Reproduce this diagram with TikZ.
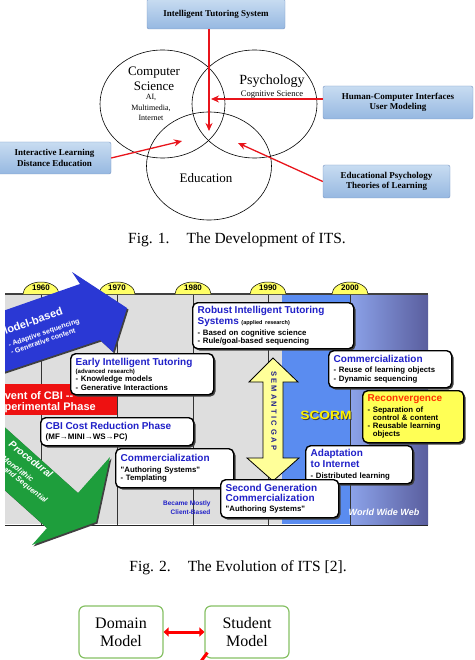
\documentclass[tikz,border=0pt]{standalone}
\usepackage{fontspec}
\setmainfont{Liberation Serif}
\newfontfamily\arialfont{Liberation Sans}
\usetikzlibrary{shadows,arrows.meta,shapes.geometric}
\definecolor{boxtop}{HTML}{C8DCF1}
\definecolor{boxbot}{HTML}{96B8E1}
\definecolor{boxline}{HTML}{7895C2}
\definecolor{itsred}{HTML}{E8141B}
\definecolor{panelgray}{HTML}{DEDEDE}
\definecolor{scormblue}{HTML}{5A8CF0}
\definecolor{webleft}{HTML}{8CA3EA}
\definecolor{webright}{HTML}{5A5E9E}
\definecolor{modelblue}{HTML}{2A38D4}
\definecolor{procgreen}{HTML}{1E9E3C}
\definecolor{cbired}{HTML}{EE1111}
\definecolor{bumpyellow}{HTML}{FFFF66}
\definecolor{gapyellow}{HTML}{FFFF99}
\definecolor{gapblue}{HTML}{20208A}
\definecolor{titleblue}{HTML}{2020C8}
\definecolor{reconvred}{HTML}{FF3300}
\definecolor{reconvyellow}{HTML}{FFFF55}
\definecolor{modelgreen}{HTML}{86C064}
\newcommand\calltitle[1]{{\color{titleblue}\fontsize{10}{11}\selectfont #1}}

\begin{document}
\begin{tikzpicture}[x=1pt, y=-1pt,
	topicbox/.style={draw=boxline, top color=boxtop, bottom color=boxbot, rounded corners=2pt, font=\bfseries\fontsize{9}{10.5}\selectfont, align=center, inner sep=0pt},
	redarrow/.style={draw=itsred, line width=1.3pt, -{Stealth[length=8pt,width=7pt]}},
	venn/.style={ellipse, draw, line width=0.6pt, minimum width=125pt, minimum height=108pt},
	eventbox/.style={draw=black, line width=1.4pt, rounded corners=5pt, fill=white, anchor=north west, align=left, inner xsep=5pt, inner ysep=2pt, font=\arialfont\bfseries\fontsize{7.8}{8.3}\selectfont, drop shadow={shadow xshift=1.8pt, shadow yshift=-1.8pt, fill=black!75, opacity=1}},
	yearlabel/.style={font=\arialfont\bfseries\fontsize{8}{8}\selectfont, inner sep=0pt},
	arrowtext/.style={text=white, font=\arialfont\bfseries\fontsize{7}{8}\selectfont, align=left, inner sep=0pt},
	modelbox/.style={draw=modelgreen, line width=1.2pt, rounded corners=6pt, minimum width=84pt, minimum height=52pt, align=center, font=\fontsize{16}{18}\selectfont},
	]
	\useasboundingbox (0,0) rectangle (474,660);

	\node[venn] (cs) at (162.5,104) {};
	\node[venn] (psy) at (254.5,104) {};
	\node[venn] (edu) at (209,166) {};
	\node[font=\fontsize{13}{15}\selectfont, align=center] (cstitle) at (154,78.5) {Computer\\Science};
	\node[font=\fontsize{8}{10.5}\selectfont, align=center] (csnote) at (151,107.5) {AI,\\Multimedia,\\Internet};
	\node[font=\fontsize{14}{15}\selectfont] (psytitle) at (272,81) {Psychology};
	\node[font=\fontsize{8.5}{10}\selectfont] (psynote) at (272,95) {Cognitive Science};
	\node[font=\fontsize{13}{15}\selectfont] (edutitle) at (206,178) {Education};
	\node[topicbox, minimum width=138pt, minimum height=30pt] (its) at (216,14) {Intelligent Tutoring System};
	\node[topicbox, minimum width=150pt, minimum height=33pt] (hci) at (398,102.5) {Human-Computer Interfaces\\User Modeling};
	\node[topicbox, minimum width=113pt, minimum height=32pt] (ile) at (54.5,158) {Interactive Learning\\Distance Education};
	\node[topicbox, minimum width=127pt, minimum height=33pt] (edpsy) at (386.5,181.5) {Educational Psychology\\Theories of Learning};
	\coordinate (itstip) at (209,131);
	\coordinate (hcitip) at (211,99);
	\coordinate (iletip) at (182,141);
	\coordinate (edpsytip) at (238,143);
	\draw[redarrow] (its.south -| itstip) -- (itstip);
	\draw[redarrow] (hci.west |- hcitip) -- (hcitip);
	\draw[redarrow] (ile.east) -- (iletip);
	\draw[redarrow] (edpsy.west) -- (edpsytip);
	\node[font=\fontsize{15.5}{17}\selectfont] (fig1cap) at (237,240) {Fig. 1.\hspace{1.1em}The Development of ITS.};

	\fill[panelgray] (5,295) rectangle (282,524);
	\fill[scormblue] (282,295) rectangle (350,524);
	\shade[left color=webleft, right color=webright] (350,295) rectangle (428,524);
	\foreach \x in {41,117,193,268,350}
		\draw[gray!40!black, line width=0.7pt] (\x,294) -- (\x,525);
	\draw[gray!50!black, line width=1.2pt] (5,294) -- (428,294);
	\draw[gray!30!black, line width=1pt] (5,525) -- (428,525);
	\foreach \x/\yr in {41/1960,117/1970,193/1980,268/1990,350/2000} {
		\draw[fill=bumpyellow, line width=0.5pt] (\x-18,294) arc[start angle=180, end angle=360, x radius=18, y radius=12];
		\node[yearlabel] (y\yr) at (\x,288) {\yr};
	}

	\begin{scope}
		\clip (5,250) rectangle (474,560);
		\fill[black!75, xshift=1.5pt, yshift=-1.5pt] (-20,319) -- (80,284) -- (72,272) -- (127,308) -- (113,352) -- (100,340) -- (-20,380) -- cycle;
		\fill[modelblue] (-20,319) -- (80,284) -- (72,272) -- (127,308) -- (113,352) -- (100,340) -- (-20,380) -- cycle;
		\node[arrowtext, rotate=19, anchor=north west] (modeltext) at (-3,329) {{\fontsize{11}{11}\selectfont Model-based}\\[5pt]\hspace*{5.5pt}- Adaptive sequencing\\\hspace*{5.5pt}- Generative content};
		\fill[cbired] (-20,384) rectangle (117,415);
		\node[arrowtext, font=\arialfont\bfseries\fontsize{11}{11}\selectfont, anchor=west] (cbitext) at (-10,402.5) {Advent of CBI --\\\hspace*{1pt}Experimental Phase};
		\fill[black!75, xshift=1.5pt, yshift=-1.5pt] (-20,405) -- (78,493) -- (110,457) -- (96,522) -- (32,545) -- (47,528) -- (-20,468) -- cycle;
		\fill[procgreen] (-20,405) -- (78,493) -- (110,457) -- (96,522) -- (32,545) -- (47,528) -- (-20,468) -- cycle;
		\node[arrowtext, font=\arialfont\bfseries\itshape\fontsize{7.5}{7.7}\selectfont, rotate=-38, anchor=north west] (proctext) at (12.6,440) {{\fontsize{10}{10}\selectfont Procedural}\\[7pt]\hspace*{3pt}Monolithic\\\hspace*{11pt}and Sequential};
	\end{scope}

	\draw[fill=gapyellow, line width=0.8pt] (273,358) -- (298,382) -- (283,382) -- (283,458) -- (299,458) -- (273,481) -- (247,458) -- (263,458) -- (263,382) -- (249,382) -- cycle;
	\node[rotate=-90, text=gapblue, inner sep=0pt, font=\arialfont\bfseries\fontsize{7.5}{8}\selectfont\addfontfeature{LetterSpace=28}] (gaptext) at (274,411) {SEMANTIC GAP};

	\node[eventbox, text width=151pt, minimum height=46pt] (robust) at (192,302) {\calltitle{Robust Intelligent Tutoring}\\[1pt]\calltitle{Systems} {\fontsize{5.5}{6}\selectfont(applied research)}\\[2pt]- Based on cognitive science\\- Rule/goal-based sequencing};
	\node[eventbox, text width=133pt, minimum height=41pt] (early) at (70,353) {\calltitle{Early Intelligent Tutoring}\\{\fontsize{6}{7}\selectfont(advanced research)}\\- Knowledge models\\- Generative Interactions};
	\node[eventbox, text width=143pt, minimum height=28pt] (cbicost) at (40,417) {\calltitle{CBI Cost Reduction Phase}\\[2pt]{\fontsize{8}{9}\selectfont(MF→MINI→WS→PC)}};
	\node[eventbox, text width=108pt, minimum height=39pt] (commone) at (115,448) {\calltitle{Commercialization}\\[2pt]"Authoring Systems"\\- Templating};
	\node[eventbox, text width=113pt, minimum height=37pt] (commtwo) at (328,350) {\calltitle{Commercialization}\\[2pt]- Reuse of learning objects\\- Dynamic sequencing};
	\node[eventbox, fill=reconvyellow, text width=91pt, minimum height=52pt] (reconv) at (362,390) {{\color{reconvred}\fontsize{10}{11}\selectfont Reconvergence}\\[2pt]- Separation of\\\hphantom{- }control \& content\\- Reusable learning\\\hphantom{- }objects};
	\node[eventbox, text width=97pt, minimum height=38pt] (adapt) at (305,445) {\calltitle{Adaptation}\\[1pt]\calltitle{to Internet}\\[2pt]- Distributed learning};
	\node[eventbox, text width=108pt, minimum height=38pt] (secondgen) at (220,479) {\calltitle{Second Generation}\\[1pt]\calltitle{Commercialization}\\[2pt]"Authoring Systems"};

	\node[text=titleblue, font=\arialfont\bfseries\fontsize{6.5}{8.5}\selectfont, align=right, anchor=east] (clientbased) at (214,507.5) {Became Mostly\\Client-Based};
	\node[text=black!75, xscale=1.15, font=\arialfont\bfseries\fontsize{12}{12}\selectfont] (scormshade) at (327,416) {SCORM};
	\node[text=yellow, xscale=1.15, font=\arialfont\bfseries\fontsize{12}{12}\selectfont] (scorm) at (326,415) {SCORM};
	\node[text=white, font=\arialfont\bfseries\itshape\fontsize{9}{9}\selectfont] (www) at (384,512) {World Wide Web};
	\node[font=\fontsize{15.5}{17}\selectfont] (fig2cap) at (238,568) {Fig. 2.\hspace{1.1em}The Evolution of ITS [2].};

	\node[modelbox] (domain) at (121,632) {Domain\\Model};
	\node[modelbox] (student) at (247,632) {Student\\Model};
	\draw[red, line width=3pt, {Triangle[length=5pt,width=9pt]}-{Triangle[length=5pt,width=9pt]}] (domain) -- (student);
	\coordinate (nextstub) at (199,664);
	\draw[red, line width=3pt] ([xshift=3pt, yshift=6pt]student.south west) -- (nextstub);
\end{tikzpicture}
\end{document}
